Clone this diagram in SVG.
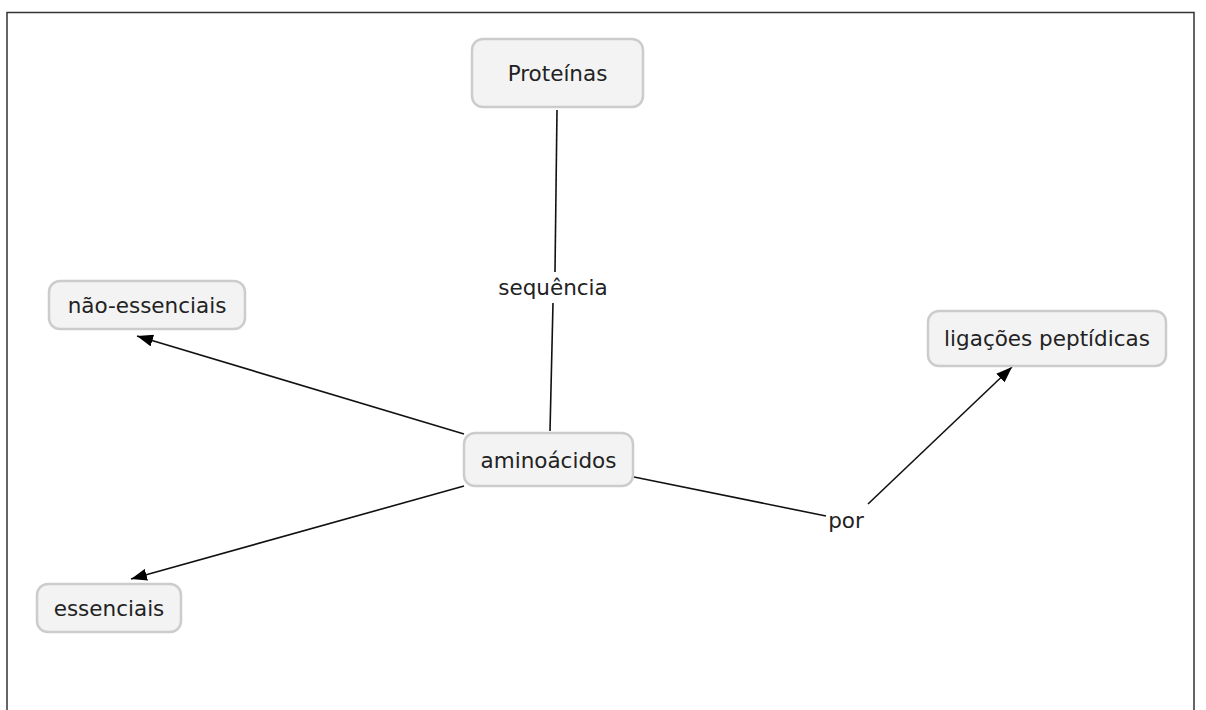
<svg xmlns="http://www.w3.org/2000/svg" width="1206" height="710" viewBox="0 0 1206 710">
  <style>
    .node rect { fill: #f3f3f3; stroke: #cccccc; stroke-width: 2.5; }
    .node text, .lbl { font-family: "DejaVu Sans", Verdana, sans-serif; font-size: 21.5px; fill: #222; text-anchor: middle; dominant-baseline: central; }
    .edge { stroke: #111; stroke-width: 1.6; fill: none; }
  </style>
  <defs>
    <marker id="arrow" viewBox="0 0 16 12" refX="16" refY="6" markerWidth="16" markerHeight="12" markerUnits="userSpaceOnUse" orient="auto">
      <path d="M0,0 L16,6 L0,12 z" fill="#000"/>
    </marker>
  </defs>
  <rect x="0" y="0" width="1206" height="710" fill="#fff"/>
  <!-- frame -->
  <path d="M7,710 V12.5 H1194 V710" fill="none" stroke="#333" stroke-width="1.5"/>

  <g id="connectors">
    <line class="edge" x1="557" y1="110" x2="555" y2="272"/>
    <line class="edge" x1="553" y1="303" x2="550" y2="431"/>
    <line class="edge" x1="464" y1="434" x2="137" y2="336" marker-end="url(#arrow)"/>
    <line class="edge" x1="464" y1="486" x2="131" y2="579" marker-end="url(#arrow)"/>
    <line class="edge" x1="634" y1="477" x2="826" y2="516"/>
    <line class="edge" x1="868" y1="504" x2="1012" y2="367" marker-end="url(#arrow)"/>
    <text class="lbl" x="553" y="287">sequência</text>
    <text class="lbl" x="846" y="520">por</text>
  </g>

  <g id="proteinas" class="node">
    <rect x="472" y="39" width="171" height="68" rx="11"/>
    <text x="557.5" y="73">Proteínas</text>
  </g>
  <g id="nao-essenciais" class="node">
    <rect x="49" y="281" width="196" height="48" rx="11"/>
    <text x="147" y="305">não-essenciais</text>
  </g>
  <g id="aminoacidos" class="node">
    <rect x="464" y="433" width="169" height="53" rx="11"/>
    <text x="548.5" y="460">aminoácidos</text>
  </g>
  <g id="ligacoes" class="node">
    <rect x="928" y="311" width="238" height="55" rx="11"/>
    <text x="1047" y="338">ligações peptídicas</text>
  </g>
  <g id="essenciais" class="node">
    <rect x="37" y="584" width="144" height="48" rx="11"/>
    <text x="109" y="608">essenciais</text>
  </g>
</svg>
